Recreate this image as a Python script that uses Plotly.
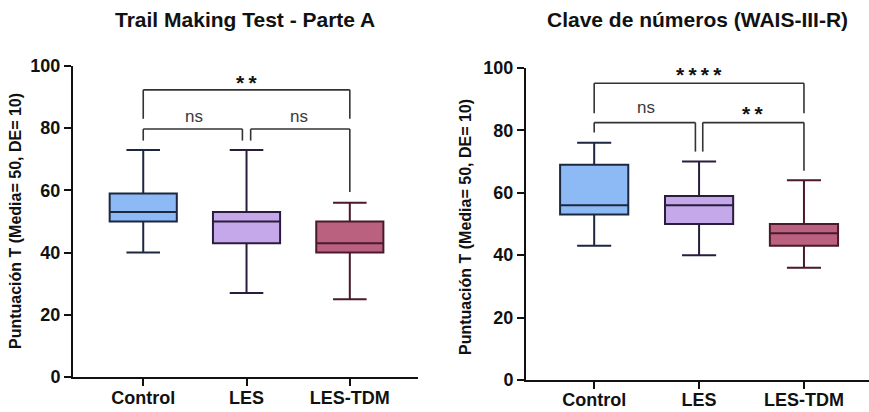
import plotly.graph_objects as go

# Groups and box statistics (T scores)
groups = ["Control", "LES", "LES-TDM"]

tmt_q1 = [50, 43, 40]
tmt_median = [53, 50, 43]
tmt_q3 = [59, 53, 50]
tmt_low = [40, 27, 25]
tmt_high = [73, 73, 56]

clave_q1 = [53, 50, 43]
clave_median = [56, 56, 47]
clave_q3 = [69, 59, 50]
clave_low = [43, 40, 36]
clave_high = [76, 70, 64]

y_ticks = [0, 20, 40, 60, 80, 100]

# Pairwise comparisons: (group a, group b, label)
tmt_pairs = [(0, 1, "ns"), (1, 2, "ns"), (0, 2, "**")]
clave_pairs = [(0, 1, "ns"), (1, 2, "**"), (0, 2, "****")]

fills = ["#8dbaf4", "#c4a8ea", "#b9617f"]
edges = ["#1c2740", "#2a1c3c", "#4a1a2c"]

font_family = "Liberation Sans, Arial, sans-serif"

fig = go.Figure()

panels = [
    ("x", "y", tmt_q1, tmt_median, tmt_q3, tmt_low, tmt_high),
    ("x2", "y2", clave_q1, clave_median, clave_q3, clave_low, clave_high),
]
for xa, ya, q1, med, q3, lo, hi in panels:
    for i, g in enumerate(groups):
        fig.add_trace(go.Box(
            x=[i], q1=[q1[i]], median=[med[i]], q3=[q3[i]],
            lowerfence=[lo[i]], upperfence=[hi[i]],
            width=0.65, whiskerwidth=0.5, boxpoints=False,
            fillcolor=fills[i], line=dict(color=edges[i], width=2),
            xaxis=xa, yaxis=ya, showlegend=False, hoverinfo="skip", name=g,
        ))

bracket_color = "#333333"


def star_text(label):
    # spread the asterisks apart with thin spaces
    return "\u2009".join(label)


def add_brackets(xref, yref, pairs, geom):
    for (a, b, label), (ybar, ya_end, yb_end, xa_off, xb_off, ylab, xlab) in zip(pairs, geom):
        xa = a + xa_off
        xb = b + xb_off
        for x0, y0, x1, y1 in [(xa, ya_end, xa, ybar), (xa, ybar, xb, ybar), (xb, ybar, xb, yb_end)]:
            fig.add_shape(type="line", xref=xref, yref=yref, x0=x0, y0=y0, x1=x1, y1=y1,
                          line=dict(color=bracket_color, width=1.6))
        is_star = label.startswith("*")
        if is_star:
            font = dict(family=font_family, size=21, color="#111111", weight="bold")
            text = star_text(label)
        else:
            font = dict(family=font_family, size=17, color="#3a3a3a")
            text = label
        fig.add_annotation(xref=xref, yref=yref, x=xlab, y=ylab, text=text, showarrow=False,
                           xanchor="center", yanchor="middle", font=font)


add_brackets("x", "y", tmt_pairs, [
    (79.7, 76, 76, 0, -0.04, 83.8, 0.49),
    (79.7, 76, 59.5, 0.04, 0, 83.8, 1.51),
    (92.3, 83, 83, 0, 0, 94.8, 1.0),
])
add_brackets("x2", "y2", clave_pairs, [
    (82.5, 79.3, 73.2, 0, -0.035, 87.2, 0.49),
    (82.5, 73.2, 67.1, 0.035, 0, 85.5, 1.51),
    (95.1, 85.5, 85.5, 0, 0, 97.8, 1.0),
])

axis_common = dict(showline=True, linecolor="#111111", linewidth=2, ticks="outside",
                   tickcolor="#111111", tickwidth=2, showgrid=False, zeroline=False,
                   tickfont=dict(family=font_family, size=18, color="#111111", weight="bold"))

fig.update_layout(
    width=869, height=412,
    margin=dict(l=0, r=0, t=0, b=0, autoexpand=False),
    plot_bgcolor="white", paper_bgcolor="white",
    xaxis=dict(domain=[0.084, 0.481], range=[-0.68, 2.66], tickvals=[0, 1, 2], ticktext=groups,
               ticklen=7, ticklabelstandoff=-4, anchor="y", **axis_common),
    yaxis=dict(domain=[0.085, 0.840], range=[0, 100], tickvals=y_ticks, ticklen=7,
               anchor="x", **axis_common),
    xaxis2=dict(domain=[0.6053, 1.0], range=[-0.65, 2.62], tickvals=[0, 1, 2], ticktext=groups,
                ticklen=7, ticklabelstandoff=-5, anchor="y2", **axis_common),
    yaxis2=dict(domain=[0.0777, 0.835], range=[0, 100], tickvals=y_ticks, ticklen=7,
                anchor="x2", **axis_common),
)

titles = [("Trail Making Test - Parte A", 245), ("Clave de números (WAIS-III-R)", 697)]
for text, px in titles:
    fig.add_annotation(xref="paper", yref="paper", x=px / 869, y=1 - 20 / 412, text=text,
                       showarrow=False, xanchor="center", yanchor="middle",
                       font=dict(family=font_family, size=21, color="#111111", weight="bold"))

ytitle = "Puntuación T (Media= 50, DE= 10)"
for px, py in [(15, 221), (465, 227)]:
    fig.add_annotation(xref="paper", yref="paper", x=px / 869, y=1 - py / 412, text=ytitle,
                       textangle=-90, showarrow=False, xanchor="center", yanchor="middle",
                       font=dict(family=font_family, size=16, color="#111111", weight="bold"))

fig.write_html("out.html")
